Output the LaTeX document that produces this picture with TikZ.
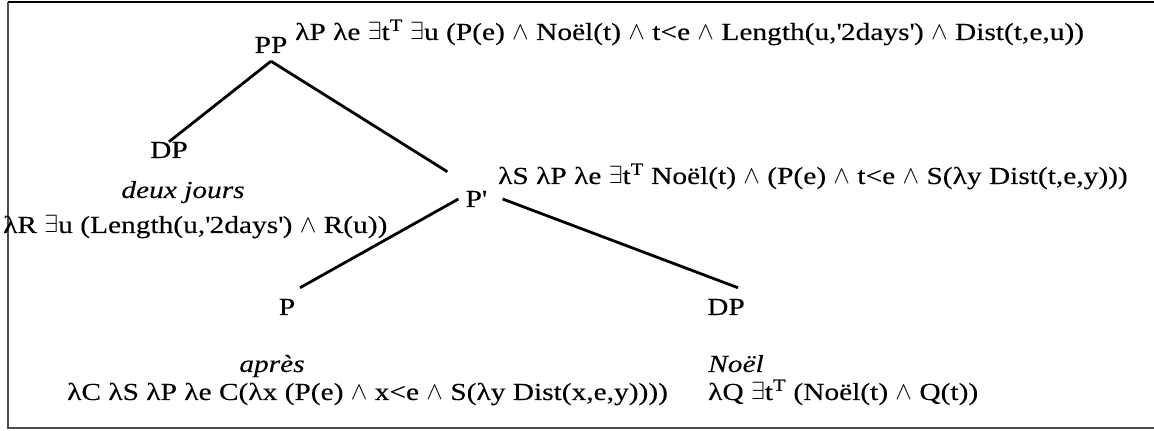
\documentclass[tikz,border=0pt]{standalone}
\usepackage{fontspec}
\setmainfont[FakeStretch=1.2,FakeBold=0.15]{Liberation Serif}
\usetikzlibrary{positioning}
\newcommand{\symEx}{$\exists$}
\newcommand{\symAnd}{$\wedge$}
\newcommand{\sq}{\textquotesingle}

\begin{document}
\begin{tikzpicture}[
  x=1pt, y=1pt,
  font=\fontsize{24.5}{28}\selectfont,
  cat/.style={inner sep=0pt, anchor=base},
  sem/.style={inner sep=0pt, anchor=base west},
  word/.style={inner sep=0pt, anchor=base, font=\fontsize{24.5}{28}\selectfont\itshape},
  e/.style={line width=2.8pt},
  box/.style={line width=1.6pt, black!70}
]
\useasboundingbox (0,0) rectangle (1154,431);
\draw[box] (8,429) -- (8,3) -- (1154,3);
\draw[line width=2.6pt] (8,429) -- (1154,429);
% tree
\node[cat] (pp) at (271,378) {PP};
\node[cat] (dpa) at (169,273) {DP};
\node[cat] (pbar) at (476,224) {P\sq};
\node[cat] (p) at (287,116) {P};
\node[cat] (dpb) at (726,116) {DP};
% words
\node[word] (deux) at (183,233) {deux jours};
\node[word] (apres) at (272,59) {après};
\node[word, anchor=base west] (noel) at (708,59) {Noël};
% meanings
\node[sem] (ppsem) at (295,391) {λP λe \symEx t\textsuperscript{T} \symEx u (P(e) \symAnd{} Noël(t) \symAnd{} t<e \symAnd{} Length(u,\sq 2days\sq) \symAnd{} Dist(t,e,u))};
\node[sem] (dpasem) at (3,198) {λR \symEx u (Length(u,\sq 2days\sq) \symAnd{} R(u))};
\node[sem] (pbarsem) at (498,247) {λS λP λe \symEx t\textsuperscript{T} Noël(t) \symAnd{} (P(e) \symAnd{} t<e \symAnd{} S(λy Dist(t,e,y)))};
\node[sem] (psem) at (67,31) {λC λS λP λe C(λx (P(e) \symAnd{} x<e \symAnd{} S(λy Dist(x,e,y))))};
\node[sem] (dpbsem) at (708,31) {λQ \symEx t\textsuperscript{T} (Noël(t) \symAnd{} Q(t))};
% branches
\draw[e] ([yshift=-8]pp.south) -- (dpa.north);
\draw[e] ([yshift=-8]pp.south) -- ([shift={(-18,19)}]pbar.north west);
\draw[e] ([xshift=-7]pbar.west) -- ([shift={(13,11)}]p.north);
\draw[e] ([xshift=16]pbar.east) -- ([shift={(12,11)}]dpb.north);
\end{tikzpicture}
\end{document}
